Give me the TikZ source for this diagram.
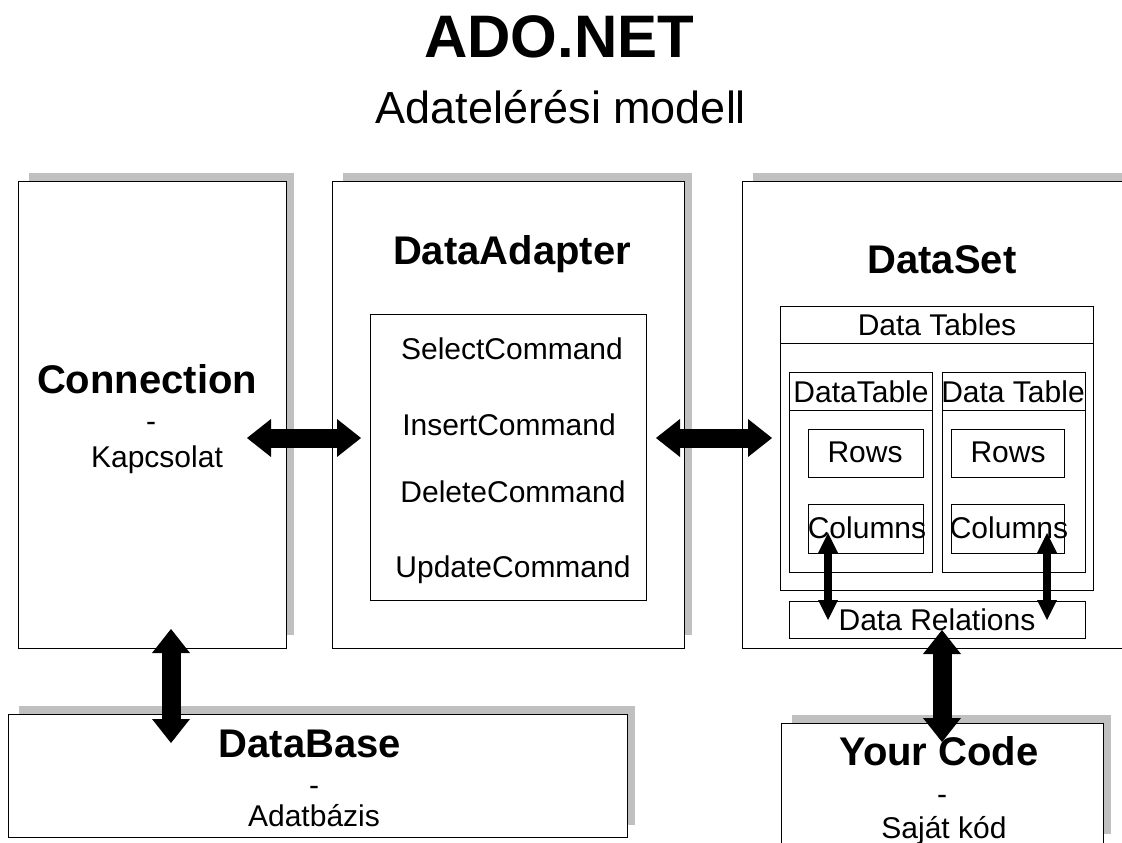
\documentclass[tikz,border=0pt]{standalone}
\usepackage{fontspec}
\setmainfont{Liberation Sans}
\usetikzlibrary{arrows.meta}
\definecolor{shadowgray}{RGB}{192,192,192}
\tikzset{
  box/.style={draw=black, line width=1pt, fill=white, anchor=north west, inner sep=0pt},
  shadowfill/.style={fill=shadowgray},
  lbl/.style={anchor=base, inner sep=0pt, font=\fontsize{30}{36}\selectfont},
  boldlbl/.style={anchor=base, inner sep=0pt, font=\fontsize{40}{48}\selectfont\bfseries},
  bigarrow/.style={line width=19pt, {Triangle[length=24pt,width=38pt,line width=0pt]}-{Triangle[length=24pt,width=38pt,line width=0pt]}},
  smallarrow/.style={line width=8pt, {Triangle[length=20pt,width=20pt,line width=0pt]}-{Triangle[length=20pt,width=20pt,line width=0pt]}},
}
\begin{document}
\begin{tikzpicture}[x=1pt,y=-1pt]
\useasboundingbox (0,0) rectangle (1122,843);
\clip (0,0) rectangle (1122,843);
\fill[white] (0,0) rectangle (1122,843);

% title
\node[anchor=base, inner sep=0pt, font=\fontsize{60}{70}\selectfont\bfseries] (title) at (559,58) {ADO.NET};
\node[anchor=base, inner sep=0pt, font=\fontsize{45}{54}\selectfont] (subtitle) at (561,123) {Adatelérési modell};

% shadows
\fill[shadowfill] (29,173) rectangle (294,635);
\fill[shadowfill] (343,173) rectangle (692,635);
\fill[shadowfill] (753,173) rectangle (1148,635);
\fill[shadowfill] (19,706) rectangle (635,825);
\fill[shadowfill] (792,715) rectangle (1111,834);

% main boxes
\node[box, minimum width=268pt, minimum height=467pt] (conn) at (18,181) {};
\node[box, minimum width=352pt, minimum height=467pt] (adapter) at (332,181) {};
\node[box, minimum width=398pt, minimum height=467pt] (dataset) at (742,181) {};
\node[box, minimum width=619pt, minimum height=123pt] (db) at (8,714) {};
\node[box, minimum width=322pt, minimum height=124pt] (code) at (781,723) {};

% Connection
\node[boldlbl] (connT) at (147,393) {Connection};
\node[lbl] (connD) at (151,431) {-};
\node[lbl] (connK) at (157,467) {Kapcsolat};

% DataAdapter
\node[boldlbl] (adT) at (512,264) {DataAdapter};
\node[box, minimum width=276pt, minimum height=286pt] (cmds) at (370,314) {};
\node[lbl] (sel) at (512,359) {SelectCommand};
\node[lbl] (ins) at (509,435) {InsertCommand};
\node[lbl] (del) at (513,502) {DeleteCommand};
\node[lbl] (upd) at (513,577) {UpdateCommand};

% DataSet
\node[boldlbl] (dsT) at (942,273) {DataSet};
\node[box, minimum width=313pt, minimum height=284pt] (dtables) at (780,306) {};
\draw[line width=1pt] ([yshift=-37pt]dtables.north west) -- ([yshift=-37pt]dtables.north east);
\node[lbl] (dtablesT) at (937,335) {Data Tables};

\node[box, minimum width=143pt, minimum height=200pt] (dtl) at (789,372) {};
\node[box, minimum width=143pt, minimum height=200pt] (dtr) at (942,372) {};
\draw[line width=1pt] ([yshift=-38pt]dtl.north west) -- ([yshift=-38pt]dtl.north east);
\draw[line width=1pt] ([yshift=-38pt]dtr.north west) -- ([yshift=-38pt]dtr.north east);
\node[lbl] (dtlT) at (861,402) {DataTable};
\node[lbl] (dtrT) at (1013,402) {Data Table};

\node[box, minimum width=115pt, minimum height=48pt] (rowsl) at (808,429) {};
\node[box, minimum width=113pt, minimum height=48pt] (rowsr) at (951,429) {};
\node[lbl] (rowslT) at (865,462) {Rows};
\node[lbl] (rowsrT) at (1008,462) {Rows};

\node[box, minimum width=115pt, minimum height=49pt] (colsl) at (808,504) {};
\node[box, minimum width=113pt, minimum height=49pt] (colsr) at (951,504) {};
\node[lbl] (colslT) at (867,538) {Columns};
\node[lbl] (colsrT) at (1009,538) {Columns};

\node[box, minimum width=296pt, minimum height=37pt] (rel) at (789,601) {};
\node[lbl] (relT) at (937,630) {Data Relations};

% DataBase
\node[boldlbl] (dbT) at (310,757) {DataBase};
\node[lbl] (dbD) at (314,795) {-};
\node[lbl] (dbA) at (314,826) {Adatbázis};

% Your Code
\node[boldlbl] (codeT) at (939,765) {Your Code};
\node[lbl] (codeD) at (942,804) {-};
\node[lbl] (codeS) at (944,838) {Saját kód};

% connector end points
\coordinate (h1a) at (247,438);
\coordinate (h1b) at (361,438);
\coordinate (h2a) at (656,438);
\coordinate (h2b) at (772,438);
\coordinate (v1a) at (171,629);
\coordinate (v1b) at (171,743);
\coordinate (v2a) at (942,630);
\coordinate (v2b) at (942,742);
\coordinate (s1a) at (828,533);
\coordinate (s1b) at (828,620);
\coordinate (s2a) at (1047,533);
\coordinate (s2b) at (1047,620);

% connectors
\draw[bigarrow] (h1a) -- (h1b);
\draw[bigarrow] (h2a) -- (h2b);
\draw[bigarrow] (v1a) -- (v1b);
\draw[bigarrow] (v2a) -- (v2b);
\draw[smallarrow] (s1a) -- (s1b);
\draw[smallarrow] (s2a) -- (s2b);
\end{tikzpicture}
\end{document}
